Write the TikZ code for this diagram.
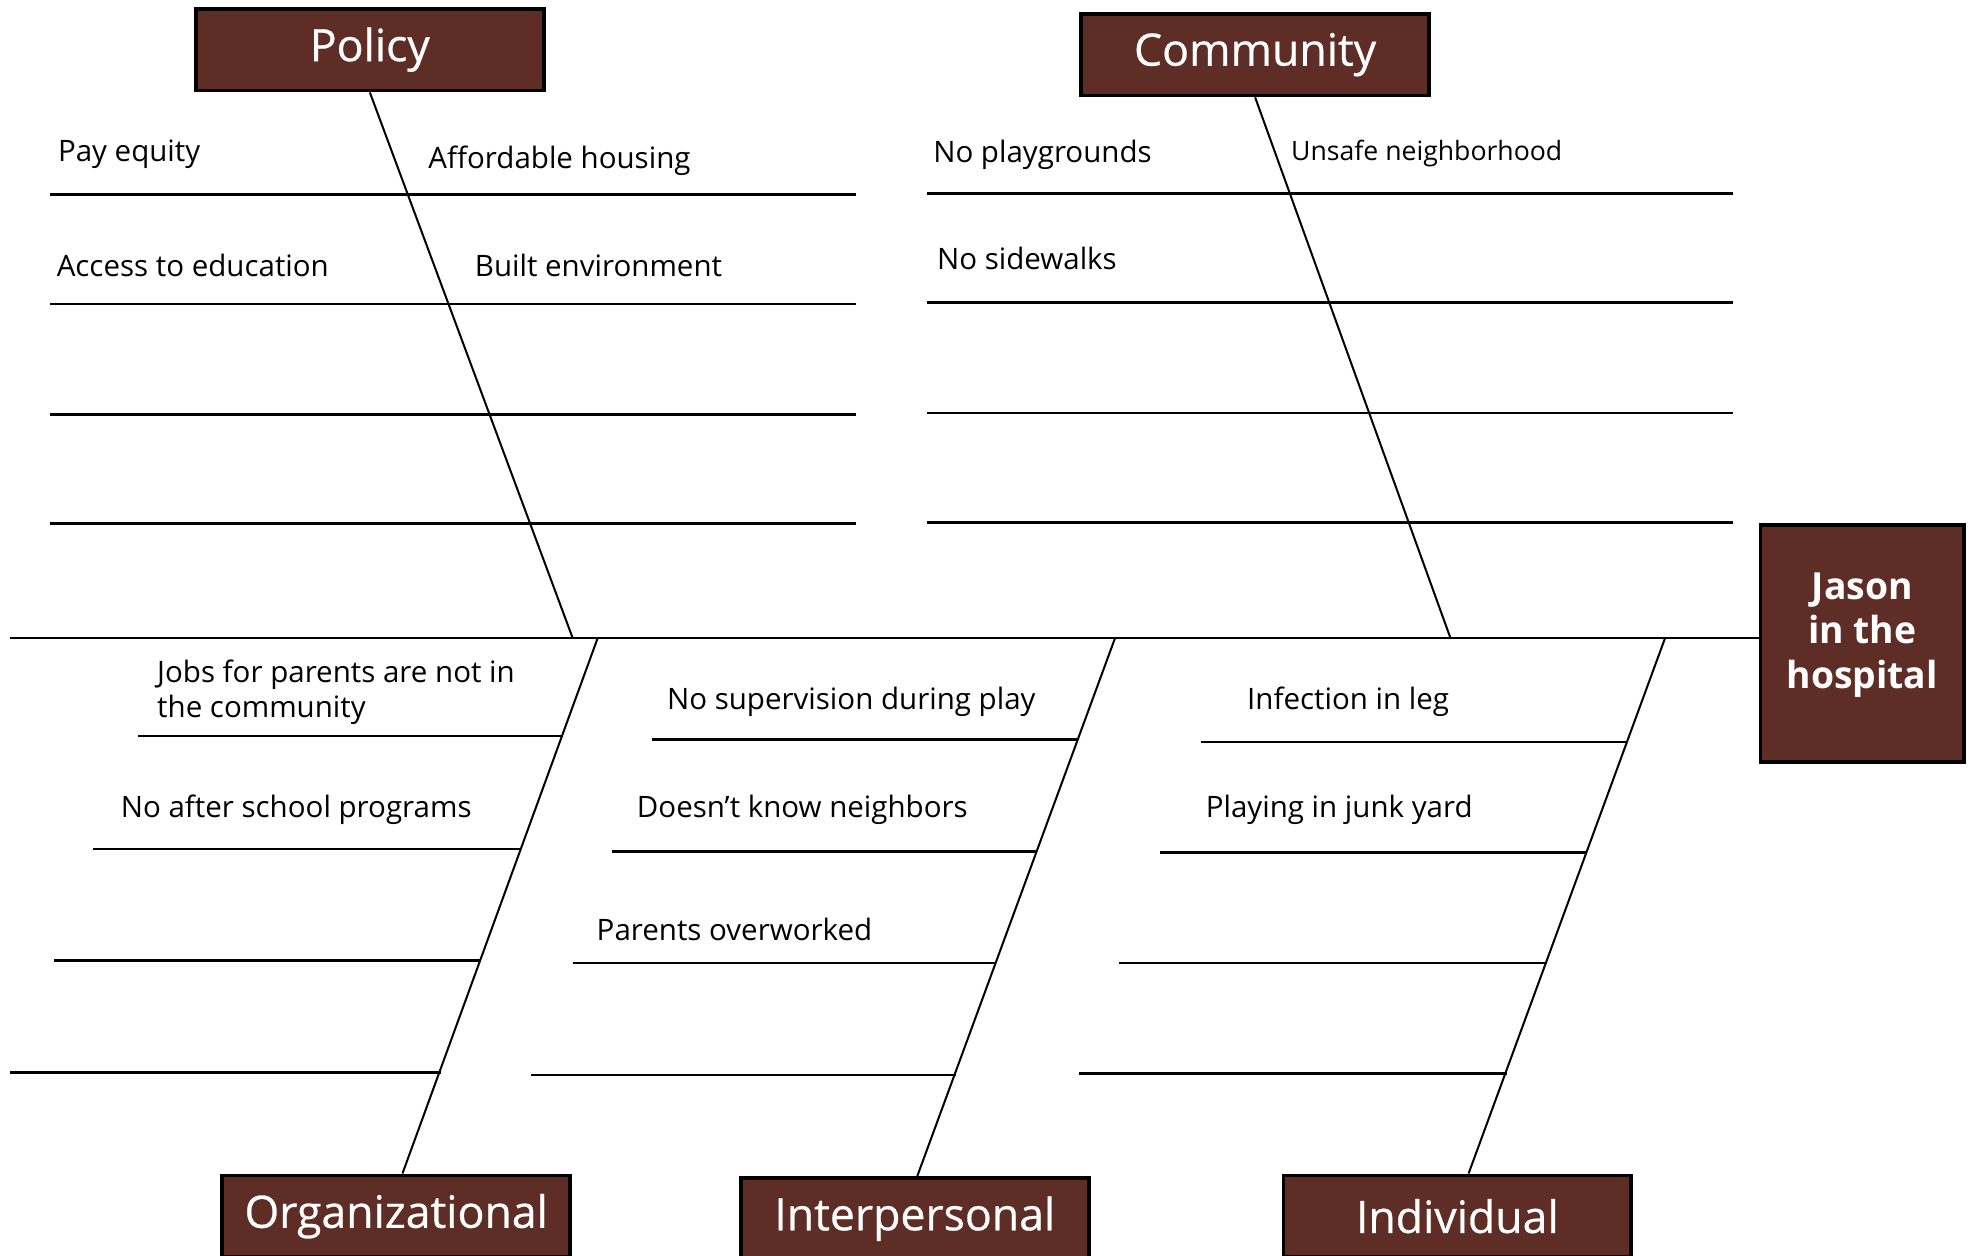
\documentclass[tikz,border=0pt]{standalone}
\usepackage{fontspec}
\setmainfont{Open Sans}
\newfontfamily\headfont{Open Sans}[FakeBold=0.6]
\usetikzlibrary{positioning, calc}
\definecolor{boxcolor}{RGB}{94, 46, 38}

\begin{document}
\begin{tikzpicture}[
    x=1pt, y=-1pt,
    headbox/.style={rectangle, draw=black, line width=3pt, fill=boxcolor, text=white, minimum width=277pt, minimum height=65pt, inner sep=0pt, font=\headfont\fontsize{35.5}{40}\selectfont},
    effectbox/.style={rectangle, draw=black, line width=3pt, fill=boxcolor, minimum width=162pt, minimum height=189pt},
    cause/.style={anchor=west, inner sep=0pt, align=left, font=\fontsize{23.5}{28}\selectfont},
    rib/.style={line width=2pt},
    bone/.style={line width=1.6pt},
]
\useasboundingbox (0,0) rectangle (1568,1000);

% ============ Boxes ============
\node[headbox] (policy) at (294.5,39.5) {Policy};
\node[headbox] (community) at (999.5,43.5) {Community};
\node[headbox] (org) at (315.5,968.5) {Organizational};
\node[headbox] (inter) at (728.5,970.5) {Interpersonal};
\node[headbox] (indiv) at (1160.5,968.5) {Individual};
\node[effectbox, label={[yshift=7pt, text=white, align=center, font=\fontsize{29.7}{35.5}\selectfont\bfseries]center:Jason\\in the\\hospital}] (jason) at (1483,512.5) {};

% ============ Spine ============
\coordinate (spine_start) at (8,508);
\coordinate (policy_end) at (456,508);
\coordinate (community_end) at (1155,508);
\coordinate (org_start) at (476,508);
\coordinate (inter_start) at (888,508);
\coordinate (indiv_start) at (1326,508);
\draw[rib] (spine_start) -- (spine_start -| jason.west);

% ============ Bones ============
\draw[bone] (policy.south) -- (policy_end);
\draw[bone] (community.south) -- (community_end);
\draw[bone] (org_start) -- ($(org.north)+(5,0)$);
\draw[bone] (inter_start) -- ($(inter.north)+(2,0)$);
\draw[bone] (indiv_start) -- ($(indiv.north)+(9,0)$);

% ============ Ribs ============
\foreach \y in {155,242,330,417}
    \draw[rib] (40,\y) -- (682,\y);
\foreach \y in {154,241,329,416}
    \draw[rib] (738,\y) -- (1380,\y);
% Organizational
\foreach \xa/\xb/\y in {110/448/586, 74/415/676, 43/383/765, 8/351/854}
    \draw[rib] (\xa,\y) -- (\xb,\y);
% Interpersonal
\foreach \xa/\xb/\y in {519/858/589, 487/826/678, 456/793/767, 423/761/856}
    \draw[rib] (\xa,\y) -- (\xb,\y);
% Individual
\foreach \xa/\xb/\y in {956/1296/591, 924/1264/679, 891/1232/767, 859/1200/855}
    \draw[rib] (\xa,\y) -- (\xb,\y);

% ============ Causes ============
\node[cause] (pay) at (46,123) {Pay equity};
\node[cause] (housing) at (341,128) {Affordable housing};
\node[cause] (educ) at (45,211) {Access to education};
\node[cause] (built) at (378,211) {Built environment};
\node[cause] (playgr) at (743,123) {No playgrounds};
\node[cause, font=\fontsize{21.2}{26}\selectfont] (unsafe) at (1028,122) {Unsafe neighborhood};
\node[cause] (sidewalk) at (746,206) {No sidewalks};
\node[cause] (jobs) at (125,551) {Jobs for parents are not in\\the community};
\node[cause] (afterschool) at (96,645) {No after school programs};
\node[cause] (supervision) at (531,559) {No supervision during play};
\node[cause] (neighbors) at (507,645) {Doesn’t know neighbors};
\node[cause] (overworked) at (475,740) {Parents overworked};
\node[cause] (infection) at (993,559) {Infection in leg};
\node[cause] (junkyard) at (960,645) {Playing in junk yard};

\end{tikzpicture}
\end{document}
